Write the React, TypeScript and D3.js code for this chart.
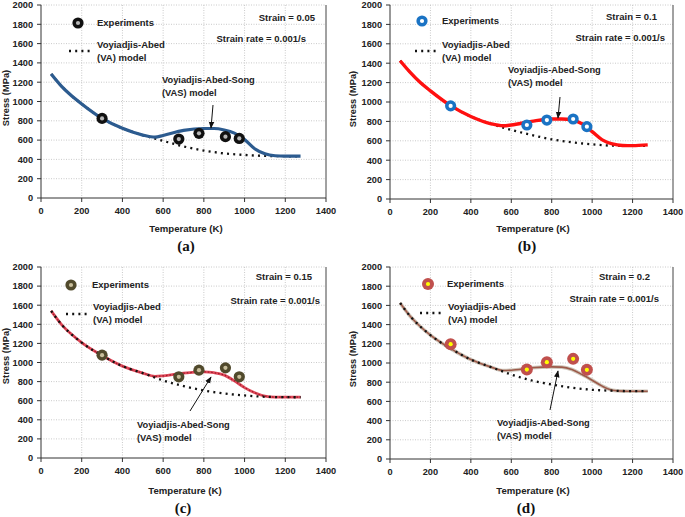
import React from 'react';
import * as d3 from 'd3';

const xTicks = [0, 200, 400, 600, 800, 1000, 1200, 1400];
const yTicks = [0, 200, 400, 600, 800, 1000, 1200, 1400, 1600, 1800, 2000];

const expT = [300, 677, 776, 906, 974];
const expA = [825, 611, 670, 636, 617];
const expB = [960, 763, 814, 825, 746];
const expC = [1077, 850, 920, 944, 850];
const expD = [1196, 932, 1009, 1043, 929];

const vasT = [50, 100, 150, 200, 300, 400, 500, 560, 600, 700, 800, 850, 900, 950, 1000, 1050, 1100, 1150, 1200, 1275];
const vasA = [1285, 1160, 1060, 975, 825, 722, 652, 630, 648, 700, 720, 720, 705, 672, 605, 510, 458, 438, 434, 434];
const vasB = [1425, 1305, 1200, 1115, 962, 850, 775, 755, 763, 800, 825, 825, 815, 775, 695, 610, 568, 552, 550, 558];
const vasC = [1540, 1400, 1295, 1208, 1073, 962, 889, 855, 860, 888, 902, 893, 868, 808, 737, 683, 648, 638, 637, 637];
const vasD = [1625, 1487, 1380, 1290, 1150, 1036, 957, 922, 925, 950, 960, 957, 932, 880, 821, 759, 717, 707, 705, 706];

const vaT = [50, 100, 150, 200, 300, 400, 500, 600, 700, 800, 900, 1000, 1100, 1200, 1275];
const vaA = [1285, 1160, 1060, 975, 825, 722, 652, 592, 535, 492, 462, 446, 436, 433, 432];
const vaB = [1425, 1305, 1200, 1115, 962, 850, 775, 712, 660, 615, 584, 564, 550, 548, 548];
const vaC = [1540, 1400, 1295, 1208, 1073, 962, 889, 812, 753, 707, 676, 655, 641, 637, 636];
const vaD = [1625, 1487, 1380, 1290, 1150, 1036, 957, 880, 818, 776, 742, 721, 711, 707, 706];

const strainLabels = ['Strain = 0.05', 'Strain = 0.1', 'Strain = 0.15', 'Strain = 0.2'];
const panelLabels = ['(a)', '(b)', '(c)', '(d)'];
const rateLabel = 'Strain rate = 0.001/s';

const FONT = "'Liberation Sans', Arial, sans-serif";

type Panel = {
  key: string;
  exp: number[];
  vas: number[];
  va: number[];
  strain: string;
  label: string;
  box: { x0: number; x1: number; yT: number; yB: number };
  style: 'a' | 'b' | 'c' | 'd';
  markerOuter: string;
  markerInner: string;
  leg: { mx: number; my: number; ex: number; eb: number; vx0: number; vx1: number; vy: number; tx: number; tb: number };
  strainPos: { x: number; b: number; rx: number; rb: number };
  vasText: { x: number; b: number };
  arrow: { x1: number; y1: number; x2: number; y2: number };
  stressX: number;
  stressY: number;
  tempX: number;
  tempB: number;
  labX: number;
  labB: number;
};

const panels: Panel[] = [
  {
    key: 'a', exp: expA, vas: vasA, va: vaA, strain: strainLabels[0], label: panelLabels[0],
    box: { x0: 41, x1: 326, yT: 5, yB: 198 }, style: 'a', markerOuter: '#111', markerInner: '#b8b8b8',
    leg: { mx: 78, my: 23, ex: 97, eb: 26, vx0: 69, vx1: 91, vy: 51, tx: 97, tb: 48 },
    strainPos: { x: 315, b: 21, rx: 306, rb: 42 }, vasText: { x: 162, b: 83 },
    arrow: { x1: 213, y1: 105, x2: 211, y2: 128 },
    stressX: 8.5, stressY: 98, tempX: 186, tempB: 232, labX: 186, labB: 251,
  },
  {
    key: 'b', exp: expB, vas: vasB, va: vaB, strain: strainLabels[1], label: panelLabels[1],
    box: { x0: 390, x1: 673, yT: 5, yB: 199 }, style: 'b', markerOuter: '#1a73c4', markerInner: '#ffffff',
    leg: { mx: 422, my: 21, ex: 442, eb: 24, vx0: 415, vx1: 436, vy: 51, tx: 442, tb: 48 },
    strainPos: { x: 657, b: 20, rx: 665, rb: 41 }, vasText: { x: 508, b: 73 },
    arrow: { x1: 560, y1: 97, x2: 558, y2: 118 },
    stressX: 356, stressY: 99, tempX: 533, tempB: 232, labX: 527, labB: 251,
  },
  {
    key: 'c', exp: expC, vas: vasC, va: vaC, strain: strainLabels[2], label: panelLabels[2],
    box: { x0: 41, x1: 326, yT: 267, yB: 458 }, style: 'c', markerOuter: '#514a2c', markerInner: '#c9bf9c',
    leg: { mx: 71, my: 285, ex: 92, eb: 288, vx0: 66, vx1: 87, vy: 314, tx: 93, tb: 310 },
    strainPos: { x: 312, b: 280, rx: 320, rb: 304 }, vasText: { x: 137, b: 428 },
    arrow: { x1: 190, y1: 411, x2: 211, y2: 377 },
    stressX: 8.5, stressY: 356, tempX: 185, tempB: 494, labX: 183, labB: 513,
  },
  {
    key: 'd', exp: expD, vas: vasD, va: vaD, strain: strainLabels[3], label: panelLabels[3],
    box: { x0: 390, x1: 673, yT: 267, yB: 459 }, style: 'd', markerOuter: '#c0504d', markerInner: '#ffff00',
    leg: { mx: 428, my: 284, ex: 447, eb: 287, vx0: 420, vx1: 441, vy: 313, tx: 448, tb: 310 },
    strainPos: { x: 650, b: 280, rx: 659, rb: 302 }, vasText: { x: 497, b: 426 },
    arrow: { x1: 550, y1: 410, x2: 558, y2: 371 },
    stressX: 356, stressY: 359, tempX: 533, tempB: 494, labX: 526, labB: 513,
  },
];

const VA_DASH = '2 4.2';

function Marker({ x, y, outer, inner, big }: { x: number; y: number; outer: string; inner: string; big?: boolean }) {
  return (
    <g>
      <circle cx={x} cy={y} r={big ? 6 : 5.6} fill={outer} />
      <circle cx={x} cy={y} r={2.1} fill={inner} />
    </g>
  );
}

function ChartPanel({ p }: { p: Panel }) {
  const { box } = p;
  const x = d3.scaleLinear().domain([0, 1400]).range([box.x0, box.x1]);
  const y = d3.scaleLinear().domain([0, 2000]).range([box.yB, box.yT]);
  const line = d3
    .line<[number, number]>()
    .x((d) => x(d[0]))
    .y((d) => y(d[1]))
    .curve(d3.curveMonotoneX);
  const vasPath = line(vasT.map((t, i) => [t, p.vas[i]] as [number, number])) || '';
  const vaPath = line(vaT.map((t, i) => [t, p.va[i]] as [number, number])) || '';

  const vaEl = <path d={vaPath} fill="none" stroke="#111" strokeWidth={2.3} strokeDasharray={VA_DASH} />;
  let vasEl: React.ReactNode = null;
  if (p.style === 'a') {
    vasEl = <path d={vasPath} fill="none" stroke="#2c5b8f" strokeWidth={3.2} />;
  } else if (p.style === 'b') {
    vasEl = <path d={vasPath} fill="none" stroke="#ff1010" strokeWidth={3.4} />;
  } else if (p.style === 'c') {
    vasEl = (
      <g>
        <path d={vasPath} fill="none" stroke="#e0495a" strokeWidth={2.8} />
        <path d={vasPath} fill="none" stroke="#9a1a28" strokeWidth={1.2} strokeDasharray="1.5 2" />
      </g>
    );
  } else {
    vasEl = (
      <g>
        <path d={vasPath} fill="none" stroke="#cfc6ba" strokeWidth={3.6} />
        <path d={vasPath} fill="none" stroke="#9c5a4a" strokeWidth={1.6} />
      </g>
    );
  }

  const arrowId = `arrow-${p.key}`;
  const txt = { fontFamily: FONT, fontWeight: 700, fill: '#222' } as const;

  return (
    <g>
      <defs>
        <marker id={arrowId} viewBox="0 0 10 10" refX={9} refY={5} markerWidth={7} markerHeight={7} orient="auto" markerUnits="userSpaceOnUse">
          <path d="M0,1 L10,5 L0,9 Z" fill="#111" />
        </marker>
      </defs>
      {yTicks.filter((t) => t > 0).map((t) => (
        <line key={`gy${t}`} x1={box.x0} x2={box.x1} y1={y(t)} y2={y(t)} stroke="#c4c4c4" strokeWidth={0.9} strokeDasharray="1 1.5" />
      ))}
      {xTicks.filter((t) => t > 0 && t < 1400).map((t) => (
        <line key={`gx${t}`} x1={x(t)} x2={x(t)} y1={box.yT} y2={box.yB} stroke="#c4c4c4" strokeWidth={0.9} strokeDasharray="1 1.5" />
      ))}
      <line x1={box.x0} x2={box.x0} y1={box.yT} y2={box.yB} stroke="#333" strokeWidth={1} />
      <line x1={box.x1} x2={box.x1} y1={box.yT} y2={box.yB} stroke="#444" strokeWidth={1} />
      <line x1={box.x0} x2={box.x1} y1={box.yB} y2={box.yB} stroke="#333" strokeWidth={1} />
      {yTicks.map((t) => (
        <g key={`ty${t}`}>
          <line x1={box.x0 - 4} x2={box.x0} y1={y(t)} y2={y(t)} stroke="#333" strokeWidth={1} />
          <text x={box.x0 - 8} y={y(t) + 3.3} textAnchor="end" fontSize={9.2} {...txt}>{t}</text>
        </g>
      ))}
      {xTicks.map((t) => (
        <g key={`tx${t}`}>
          <line x1={x(t)} x2={x(t)} y1={box.yB} y2={box.yB + 4} stroke="#333" strokeWidth={1} />
          <text x={x(t)} y={box.yB + 16} textAnchor="middle" fontSize={9.2} {...txt}>{t}</text>
        </g>
      ))}
      <text transform={`translate(${p.stressX},${p.stressY}) rotate(-90)`} textAnchor="middle" fontSize={9.3} {...txt}>Stress (MPa)</text>
      <text x={p.tempX} y={p.tempB} textAnchor="middle" fontSize={9.6} {...txt}>Temperature (K)</text>
      <text x={p.labX} y={p.labB} textAnchor="middle" fontSize={15} fontFamily="'Liberation Serif', 'Times New Roman', serif" fontWeight={700} fill="#111">{p.label}</text>

      {p.style === 'a' || p.style === 'b' ? (<>{vaEl}{vasEl}</>) : (<>{vasEl}{vaEl}</>)}

      {expT.map((t, i) => (
        <Marker key={`m${i}`} x={x(t)} y={y(p.exp[i])} outer={p.markerOuter} inner={p.markerInner} big={p.style === 'd'} />
      ))}

      <Marker x={p.leg.mx} y={p.leg.my} outer={p.markerOuter} inner={p.markerInner} big={p.style === 'd'} />
      <text x={p.leg.ex} y={p.leg.eb} fontSize={9.5} {...txt}>Experiments</text>
      <line x1={p.leg.vx0} x2={p.leg.vx1} y1={p.leg.vy} y2={p.leg.vy} stroke="#111" strokeWidth={2.3} strokeDasharray={VA_DASH} />
      <text x={p.leg.tx} y={p.leg.tb} fontSize={9.5} {...txt}>Voyiadjis-Abed</text>
      <text x={p.leg.tx} y={p.leg.tb + 13} fontSize={9.5} {...txt}>(VA) model</text>

      <text x={p.strainPos.x} y={p.strainPos.b} textAnchor="end" fontSize={9.5} {...txt}>{p.strain}</text>
      <text x={p.strainPos.rx} y={p.strainPos.rb} textAnchor="end" fontSize={9.5} {...txt}>{rateLabel}</text>

      <text x={p.vasText.x} y={p.vasText.b} fontSize={9.3} {...txt}>Voyiadjis-Abed-Song</text>
      <text x={p.vasText.x} y={p.vasText.b + 13} fontSize={9.3} {...txt}>(VAS) model</text>
      <line x1={p.arrow.x1} y1={p.arrow.y1} x2={p.arrow.x2} y2={p.arrow.y2} stroke="#111" strokeWidth={1} markerEnd={`url(#${arrowId})`} />
    </g>
  );
}

export default function App() {
  return (
    <svg width={685} height={517} style={{ position: 'absolute', left: 0, top: 0, background: '#fff' }}>
      <rect x={0} y={0} width={685} height={517} fill="#fff" />
      {panels.map((p) => (
        <ChartPanel key={p.key} p={p} />
      ))}
    </svg>
  );
}
